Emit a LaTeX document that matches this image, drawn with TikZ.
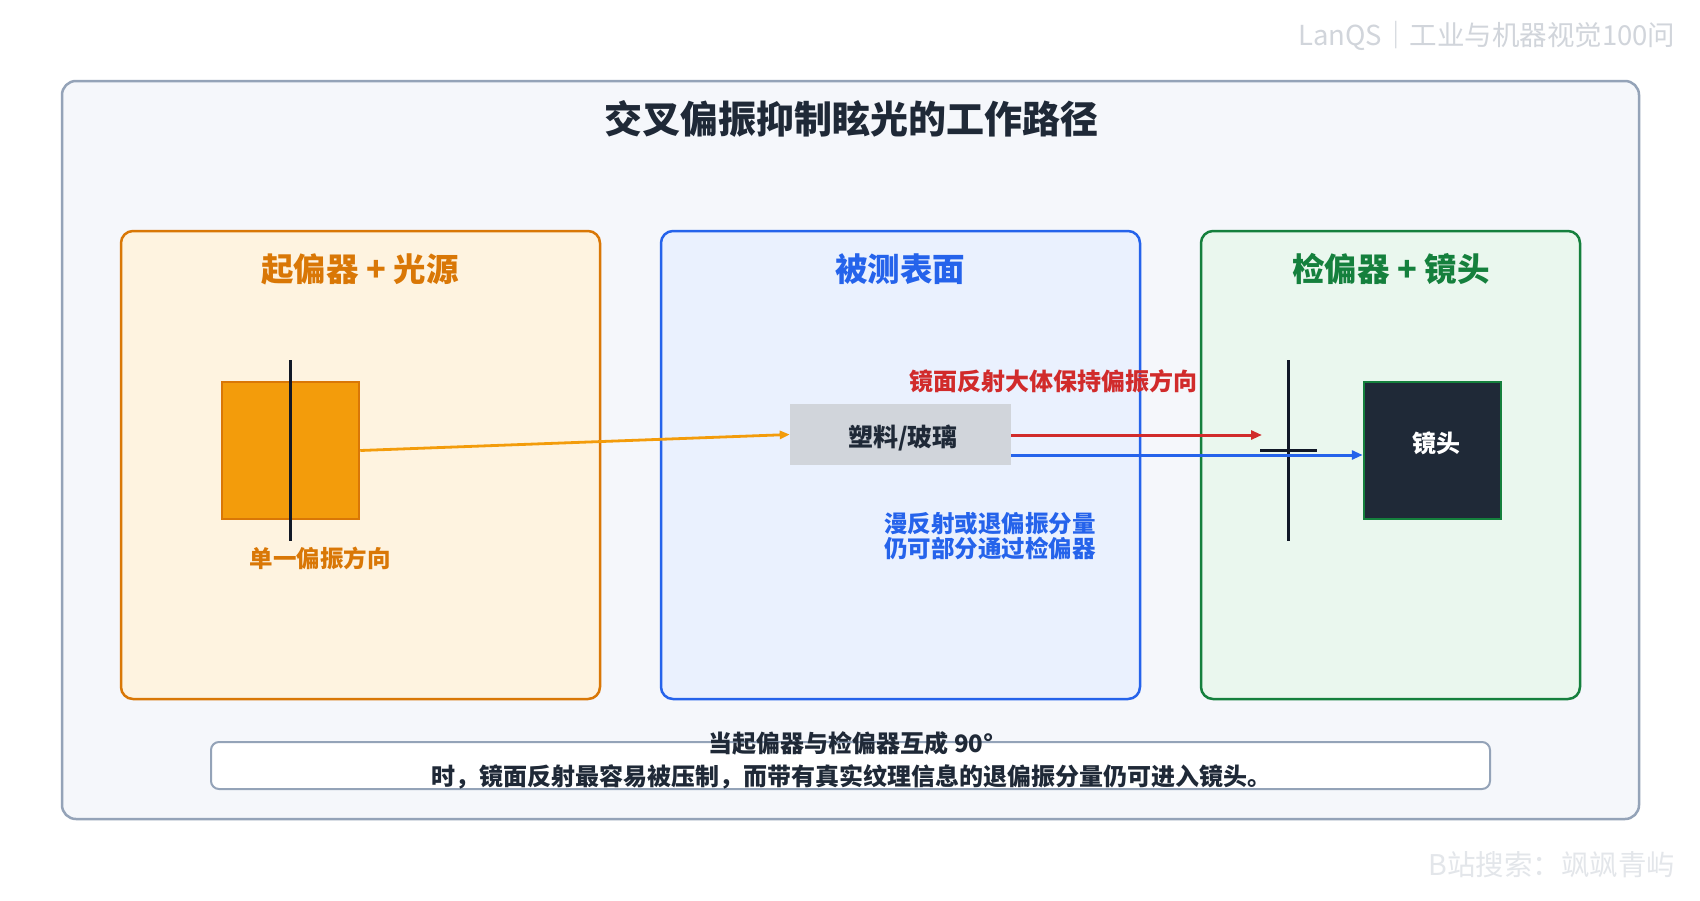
\documentclass[tikz,border=0pt]{standalone}
\usepackage{fontspec}
\setmainfont{Noto Sans CJK SC}
\usetikzlibrary{arrows.meta}
\definecolor{panelfill}{HTML}{F5F7FB}
\definecolor{panelline}{HTML}{94A3B8}
\definecolor{ink}{HTML}{1F2937}
\definecolor{dark}{HTML}{111827}
\definecolor{orline}{HTML}{D97706}
\definecolor{orfill}{HTML}{FEF3E0}
\definecolor{orsq}{HTML}{F39C0B}
\definecolor{blline}{HTML}{2563EB}
\definecolor{blfill}{HTML}{EAF1FE}
\definecolor{grline}{HTML}{15803D}
\definecolor{grfill}{HTML}{EAF7EE}
\definecolor{redc}{HTML}{D12B2B}
\definecolor{glassc}{HTML}{D1D5DB}
\definecolor{wm}{HTML}{D1D5DB}
\definecolor{wmb}{HTML}{E3E6EA}
\tikzset{
  panel/.style={draw=#1, line width=2.5pt, rounded corners=12pt},
  ttl/.style={font=\fontsize{32.5}{35}\selectfont\bfseries, text=#1, anchor=center},
  lbl/.style={font=\fontsize{23.5}{25}\selectfont\bfseries, text=#1, anchor=center, align=center},
  polline/.style={draw=dark, line width=3pt},
  ray/.style={line width=3pt, -{Triangle[length=11pt,width=9pt]}},
}
\begin{document}
\begin{tikzpicture}[x=1pt,y=-1pt]
\useasboundingbox (0,0) rectangle (1700,900);
\fill[white] (0,0) rectangle (1700,900);
% watermarks
\node[anchor=east, text=wm, font=\fontsize{27.5}{29}\selectfont] (wm1) at (1679,36) {LanQS｜工业与机器视觉100问};
\node[anchor=east, text=wmb, font=\fontsize{28.5}{30}\selectfont] (wm2) at (1679,865) {B站搜索：飒飒青屿};
% outer panel
\draw[panel=panelline, fill=panelfill, rounded corners=14pt] (62,81) rectangle (1639,819);
\node[font=\fontsize{38}{41}\selectfont\bfseries, text=ink] (title) at (851,119) {交叉偏振抑制眩光的工作路径};
% three panels
\draw[panel=orline, fill=orfill] (121,231) rectangle (600,699);
\draw[panel=blline, fill=blfill] (661,231) rectangle (1140,699);
\draw[panel=grline, fill=grfill] (1201,231) rectangle (1580,699);
\node[ttl=orline] (t1) at (360,269) {起偏器 + 光源};
\node[ttl=blline] (t2) at (900,269) {被测表面};
\node[ttl=grline] (t3) at (1391,269) {检偏器 + 镜头};
% source
\node[draw=orline, fill=orsq, line width=2.5pt, minimum width=137pt, minimum height=137pt, inner sep=0pt] (src) at (290.5,450.5) {};
\coordinate (p1t) at (290,360);
\coordinate (p1b) at (290,541);
\draw[polline] (p1t) -- (p1b);
\node[lbl=orline] (l1) at (320,558) {单一偏振方向};
% surface
\node[fill=glassc, minimum width=221pt, minimum height=61pt, inner sep=0pt] (glass) at (900.5,434.5) {};
\node[font=\fontsize{25}{27}\selectfont\bfseries, text=ink] (glasst) at (903,438) {塑料/玻璃};
\draw[ray, draw=orsq, -{Triangle[length=10pt,width=8pt]}, line width=2.8pt, color=orsq] (src.east) -- (glass.west);
% analyzer
\coordinate (p2t) at (1288,360);
\coordinate (p2b) at (1288,541);
\coordinate (p2l) at (1260,450);
\coordinate (p2r) at (1317,450);
\draw[polline] (p2t) -- (p2b);
\draw[polline] (p2l) -- (p2r);
% lens
\node[draw=grline, fill=ink, line width=2.5pt, minimum width=137pt, minimum height=137pt, inner sep=0pt] (lens) at (1432.5,450.5) {};
\node[text=white, font=\fontsize{24}{26}\selectfont\bfseries] (lenst) at (1436,443) {镜头};
% rays
\coordinate (redend) at (1262,435);
\draw[ray, color=redc] (glass.east |- redend) -- (redend);
\coordinate (blstart) at (glass.east |- 0,455);
\draw[ray, color=blline] (blstart) -- (lens.west |- blstart);
\node[lbl=redc, font=\fontsize{24}{26}\selectfont\bfseries] (l2) at (1053,381) {镜面反射大体保持偏振方向};
\node[lbl=blline, font=\fontsize{23.5}{25}\selectfont\bfseries] (l3) at (990,536) {漫反射或退偏振分量\\仍可部分通过检偏器};
% note
\draw[draw=panelline, line width=2pt, fill=white, rounded corners=8pt] (211,742) rectangle (1490,789);
\node[font=\fontsize{24}{26}\selectfont\bfseries, text=ink] (n1) at (851,743) {当起偏器与检偏器互成 90°};
\node[font=\fontsize{24}{26}\selectfont\bfseries, text=ink] (n2) at (851,777) {时，镜面反射最容易被压制，而带有真实纹理信息的退偏振分量仍可进入镜头。};
\end{tikzpicture}
\end{document}
